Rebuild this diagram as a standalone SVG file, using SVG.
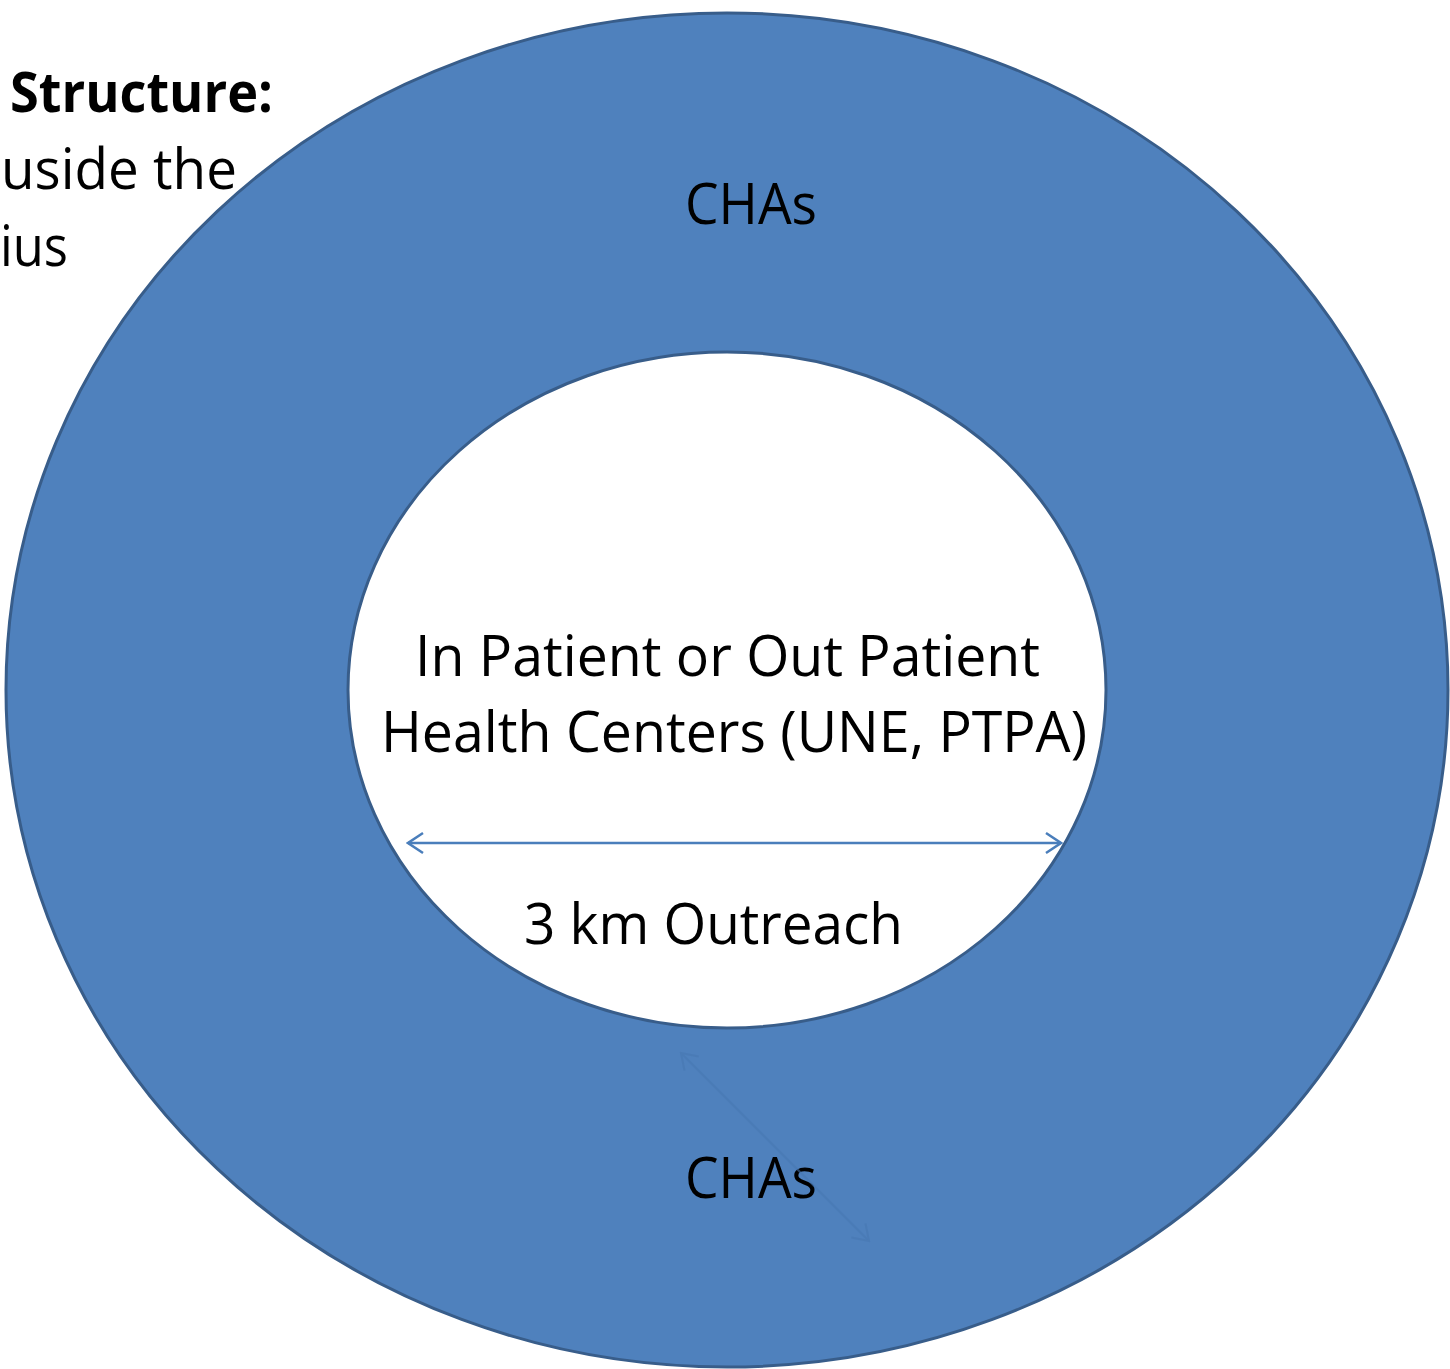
<svg xmlns="http://www.w3.org/2000/svg" width="1450" height="1369" viewBox="0 0 1450 1369">
<style>
.t{font-family:"Open Sans","Noto Sans","DejaVu Sans",sans-serif;font-size:56px;fill:#000}
.b{font-weight:bold}
.conn{fill:none;stroke:#4A7EBB;stroke-width:2.5}
</style>
<defs>
<marker id="chev" viewBox="0 0 20 24" refX="18" refY="12" markerWidth="20" markerHeight="24" markerUnits="userSpaceOnUse" orient="auto-start-reverse">
<path d="M3,2 L18,12 L3,22" fill="none" stroke="#4A7EBB" stroke-width="2.5"/>
</marker>
<marker id="chev2" viewBox="0 0 20 24" refX="18" refY="12" markerWidth="20" markerHeight="24" markerUnits="userSpaceOnUse" orient="auto-start-reverse">
<path d="M3,2 L18,12 L3,22" fill="none" stroke="#4677B2" stroke-width="2"/>
</marker>
</defs>
<rect width="1450" height="1369" fill="#fff"/>
<g id="side-text">
<text class="t b" x="10" y="112" textLength="263" lengthAdjust="spacingAndGlyphs">Structure:</text>
<text class="t" x="1" y="189" textLength="236" lengthAdjust="spacingAndGlyphs">uside the</text>
<text class="t" x="0" y="266" textLength="68" lengthAdjust="spacingAndGlyphs">ius</text>
</g>
<g id="outer-ring">
<ellipse cx="727" cy="690" rx="721" ry="677" fill="#4F81BD" stroke="#385D8A" stroke-width="3"/>
<text class="t" x="685" y="224" textLength="132" lengthAdjust="spacingAndGlyphs">CHAs</text>
<text class="t" x="685" y="1198" textLength="132" lengthAdjust="spacingAndGlyphs">CHAs</text>
</g>
<g id="inner-center">
<ellipse cx="727" cy="690" rx="379" ry="338" fill="#fff" stroke="#385D8A" stroke-width="3"/>
<text class="t" x="415" y="676" textLength="625" lengthAdjust="spacingAndGlyphs">In Patient or Out Patient</text>
<text class="t" x="381" y="752" textLength="706" lengthAdjust="spacingAndGlyphs">Health Centers (UNE, PTPA)</text>
<text class="t" x="524" y="944" textLength="379" lengthAdjust="spacingAndGlyphs">3 km Outreach</text>
</g>
<g id="connectors">
<line class="conn" x1="408" y1="843" x2="1061" y2="843" marker-start="url(#chev)" marker-end="url(#chev)"/>
<line x1="681" y1="1053" x2="869" y2="1241" stroke="#4677B2" stroke-width="2" opacity="0.55" marker-start="url(#chev2)" marker-end="url(#chev2)"/>
</g>
</svg>
